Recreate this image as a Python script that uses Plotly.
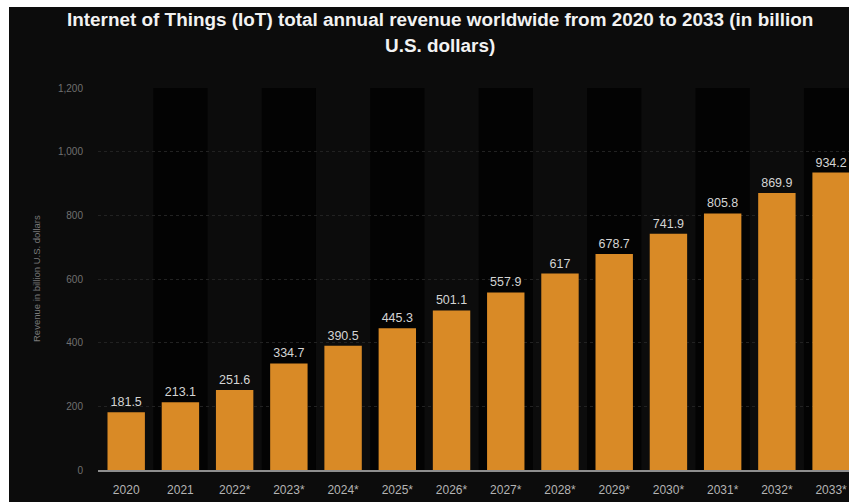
import plotly.graph_objects as go

# Annual IoT revenue (billion U.S. dollars); * marks forecast years
years = ["2020", "2021", "2022*", "2023*", "2024*", "2025*", "2026*",
         "2027*", "2028*", "2029*", "2030*", "2031*", "2032*", "2033*"]
revenue = [181.5, 213.1, 251.6, 334.7, 390.5, 445.3, 501.1,
           557.9, 617.0, 678.7, 741.9, 805.8, 869.9, 934.2]
y_ticks = [0, 200, 400, 600, 800, 1000, 1200]

W, H = 849, 502
ML, MR, MT, MB = 98, 0, 88, 32
PW, PH = W - ML - MR, H - MT - MB

BG = "#0c0c0c"
BAND = "#030303"
BAR = "#d98a26"
FONT = "Liberation Sans, Arial, sans-serif"

fig = go.Figure()
fig.add_trace(go.Bar(
    x=years,
    y=revenue,
    marker=dict(color=BAR, line=dict(width=0)),
    text=[f"{v:g}" for v in revenue],
    textposition="outside",
    textfont=dict(family=FONT, size=12.5, color="#d4d4d4"),
    cliponaxis=True,
    hoverinfo="x+y",
))

# alternating darker column bands behind every other year
shapes = []
for i in range(len(years)):
    if i % 2 == 1:
        shapes.append(dict(type="rect", xref="x", yref="paper",
                           x0=i - 0.5, x1=i + 0.5, y0=0, y1=1,
                           fillcolor=BAND, line=dict(width=0), layer="below"))

# thin white border along the top and left edges of the canvas
def px_x(p):
    return (p - ML) / PW

def px_y(p):
    return (H - MB - p) / PH

shapes.append(dict(type="rect", xref="paper", yref="paper",
                   x0=px_x(0), x1=px_x(9), y0=px_y(H), y1=px_y(0),
                   fillcolor="white", line=dict(width=0), layer="above"))
shapes.append(dict(type="rect", xref="paper", yref="paper",
                   x0=px_x(0), x1=px_x(W), y0=px_y(7), y1=px_y(0),
                   fillcolor="white", line=dict(width=0), layer="above"))

TITLE_FONT = dict(family=FONT, size=18.9, color="#f2f2f2", weight="bold")
annotations = [
    dict(text="Internet of Things (IoT) total annual revenue worldwide from 2020 to 2033 (in billion",
         xref="paper", yref="paper", x=px_x(440), y=px_y(19),
         xanchor="center", yanchor="middle", showarrow=False, font=TITLE_FONT),
    dict(text="U.S. dollars)",
         xref="paper", yref="paper", x=px_x(440), y=px_y(46),
         xanchor="center", yanchor="middle", showarrow=False, font=TITLE_FONT),
    dict(text="Revenue in billion U.S. dollars",
         xref="paper", yref="paper", x=px_x(36), y=0.5,
         xanchor="center", yanchor="middle", showarrow=False, textangle=-90,
         font=dict(family=FONT, size=9.5, color="#7a7a7a")),
]

fig.update_layout(
    width=W, height=H,
    margin=dict(l=ML, r=MR, t=MT, b=MB, pad=0),
    paper_bgcolor=BG,
    plot_bgcolor=BG,
    bargap=0.31,
    showlegend=False,
    shapes=shapes,
    annotations=annotations,
    xaxis=dict(
        type="category",
        range=[-0.52, 13.33],
        showgrid=False,
        showline=True, linecolor="#8e8e8e", linewidth=2,
        ticks="", ticklabelstandoff=8,
        tickfont=dict(family=FONT, size=12, color="#b4b4b4"),
        fixedrange=True,
    ),
    yaxis=dict(
        range=[0, 1200],
        tickvals=y_ticks,
        ticktext=[f"{v:,}" for v in y_ticks],
        showgrid=True, gridcolor="#222222", gridwidth=1, griddash="dot",
        zeroline=False, showline=False,
        ticks="", ticklabelstandoff=14,
        tickfont=dict(family=FONT, size=10, color="#707070"),
        fixedrange=True,
    ),
)

fig.write_html("out.html")
